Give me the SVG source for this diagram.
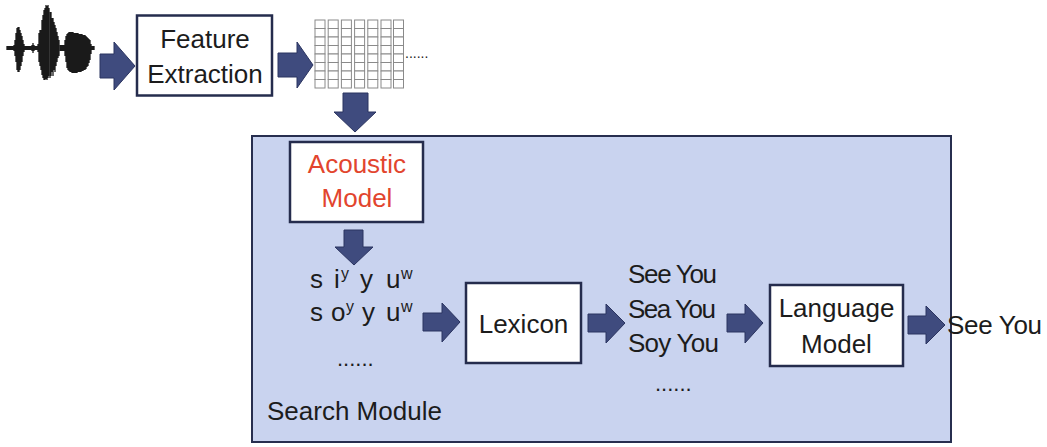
<svg xmlns="http://www.w3.org/2000/svg" width="1047" height="447" viewBox="0 0 1047 447">
<style>
  .txt { font-family: "Liberation Sans", Arial, sans-serif; font-size: 26px; fill: #1c1c1c; }
  .red { fill: #e2452e; }
  .box { fill: #ffffff; stroke: #252c4d; stroke-width: 2.5; }
  .arr { fill: #3f4b7e; stroke: #2b3460; stroke-width: 1; }
  .cell { fill: #ffffff; stroke: #8a8a8a; stroke-width: 1; }
  .wave { fill: none; stroke: #1a1a1a; stroke-width: 1.3; }
  .sup { font-size: 16px; }
</style>
<rect width="1047" height="447" fill="#ffffff"/>

<g id="waveform">
  <path class="wave" d="M7 46V50M8 46V50M9 46V50M10 46V50M11 46V50M12 46V50M13 46V50M14 45V51
  M15 40V56M16 33V62M17 28V70M18 27V72M19 27V72M20 30V70M21 33V66M22 36V62M23 40V56M24 44V52
  M25 46V50M26 46V50M27 46V50M28 46V50M29 46V50M30 46V50M31 46V50M32 45V51M33 43V53M34 45V51M35 46V50M36 46V50M37 46V50
  M38 44V52M39 33V62M40 30V66M41 30V70M42 20V75M43 15V78M44 10V80M45 8V80M46 5V79M47 6V80M48 5V78M49 8V76"/>
  <path class="wave" stroke="#555" d="M50 12V78M51 12V76M52 18V72M53 18V76M54 22V70M55 25V72M56 28V66M57 32V62M58 36V58M59 40V56"/>
  <path class="wave" d="M60 45V51M61 45V51M62 45V51M63 45V51M64 45V51M65 40V56M66 36V62M67 34V68M68 33V70
  M69 32V71M70 32V72M71 32V72M72 32V73M73 32V73M74 33V73M75 33V73M76 33V73M77 33V73M78 33V72M79 34V72M80 34V72
  M81 34V72M82 34V71M83 35V71M84 35V70M85 35V70M86 36V69M87 37V67M88 38V66M89 39V63M90 40V60M91 44V54M92 46V50M93 46V50M94 46V50"/>
</g>

<g id="feature-extraction">
  <rect class="box" x="137" y="15.5" width="135" height="80"/>
  <text class="txt" x="205" y="48" text-anchor="middle">Feature</text>
  <text class="txt" x="205" y="83" text-anchor="middle">Extraction</text>
</g>

<g id="feature-grid">
  <g id="gridcols">
    <g id="col0">
      <rect class="cell" x="315" y="20" width="10" height="8.5"/>
      <rect class="cell" x="315" y="28.5" width="10" height="8.5"/>
      <rect class="cell" x="315" y="37" width="10" height="8.5"/>
      <rect class="cell" x="315" y="45.5" width="10" height="8.5"/>
      <rect class="cell" x="315" y="54" width="10" height="8.5"/>
      <rect class="cell" x="315" y="62.5" width="10" height="8.5"/>
      <rect class="cell" x="315" y="71" width="10" height="8.5"/>
      <rect class="cell" x="315" y="79.5" width="10" height="8.5"/>
    </g>
    <use href="#col0" x="13.2"/>
    <use href="#col0" x="26.4"/>
    <use href="#col0" x="39.6"/>
    <use href="#col0" x="52.8"/>
    <use href="#col0" x="66"/>
    <use href="#col0" x="78.5"/>
  </g>
  <text class="txt" x="405" y="58" style="font-size:14px" fill="#666">......</text>
</g>

<g id="search-module">
  <rect x="252" y="136" width="699" height="306" fill="#c9d3ef" stroke="#272e4f" stroke-width="2"/>
  <text class="txt" x="267" y="420">Search Module</text>
</g>

<g id="acoustic-model">
  <rect class="box" x="290" y="142" width="133" height="80" stroke-width="3"/>
  <text class="txt red" x="357" y="173" text-anchor="middle">Acoustic</text>
  <text class="txt red" x="357" y="207" text-anchor="middle">Model</text>
</g>

<g id="phones">
  <text class="txt" y="288"><tspan x="310">s</tspan><tspan x="334">i</tspan><tspan class="sup" x="341" dy="-9">y</tspan><tspan x="360" dy="9">y</tspan><tspan x="386">u</tspan><tspan class="sup" x="401" dy="-9">w</tspan></text>
  <text class="txt" y="321"><tspan x="310">s</tspan><tspan x="331">o</tspan><tspan class="sup" x="346" dy="-9">y</tspan><tspan x="362" dy="9">y</tspan><tspan x="386">u</tspan><tspan class="sup" x="401" dy="-9">w</tspan></text>
  <text class="txt" x="337" y="366" style="font-size:22px">......</text>
</g>

<g id="lexicon">
  <rect class="box" x="466" y="283" width="115" height="80"/>
  <text class="txt" x="523.5" y="333" text-anchor="middle">Lexicon</text>
</g>

<g id="hypotheses">
  <text class="txt" x="628" y="283" textLength="89">See You</text>
  <text class="txt" x="628" y="318" textLength="88">Sea You</text>
  <text class="txt" x="628" y="352" textLength="91">Soy You</text>
  <text class="txt" x="655" y="391" style="font-size:22px">......</text>
</g>

<g id="language-model">
  <rect class="box" x="770" y="285" width="133" height="81"/>
  <text class="txt" x="836.5" y="317" text-anchor="middle">Language</text>
  <text class="txt" x="836.5" y="353" text-anchor="middle">Model</text>
</g>

<g id="output">
  <text class="txt" x="947" y="334" textLength="95">See You</text>
</g>

<g id="connectors">
  <path class="arr" d="M100 54H114V42L135 66L114 90V78H100Z"/>
  <path class="arr" d="M278 53H297V42L313 65L297 88V77H278Z"/>
  <path class="arr" d="M343 93H368V112H376L355 132L334 112H343Z"/>
  <path class="arr" d="M344 230H363V247H373L354 265L335 247H344Z"/>
  <path class="arr" d="M423 313H442V303L460 322L442 342V331H423Z"/>
  <path class="arr" d="M588 314H606V304L625 323L606 343V332H588Z"/>
  <path class="arr" d="M727 314H745V304L763 323L745 343V332H727Z"/>
  <path class="arr" d="M908 316H926V306L945 325L926 344V334H908Z"/>
</g>
</svg>
